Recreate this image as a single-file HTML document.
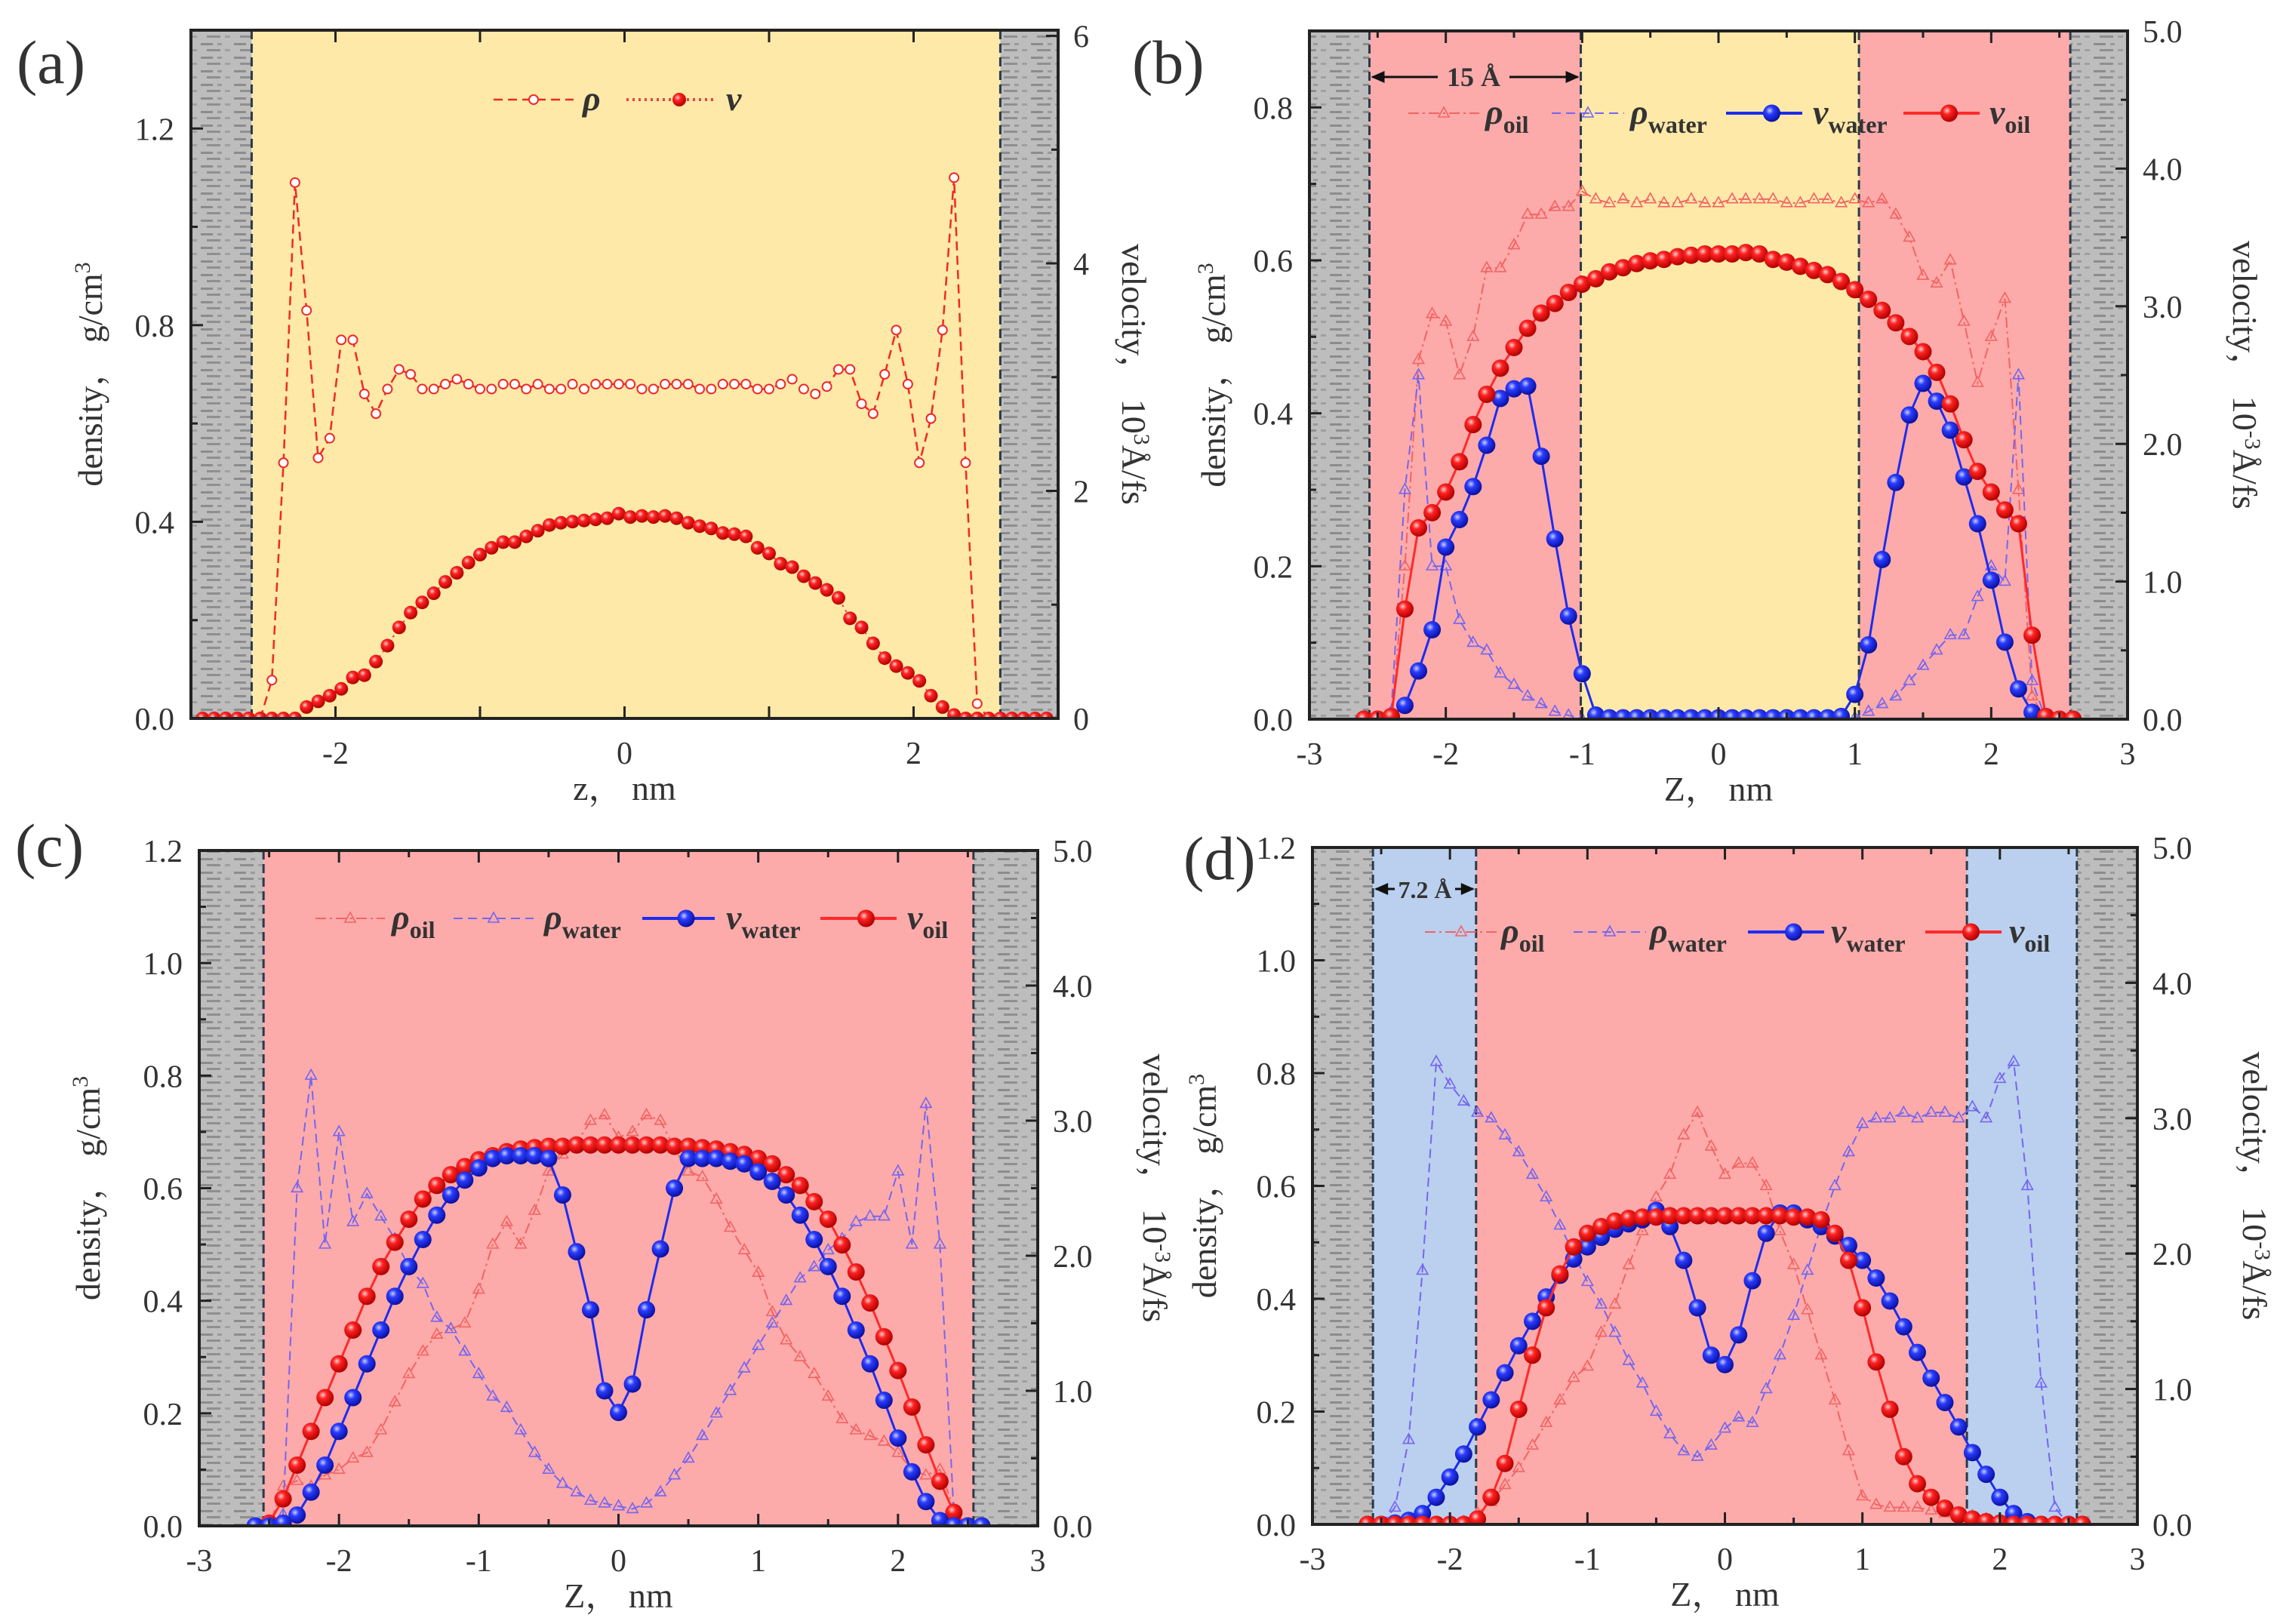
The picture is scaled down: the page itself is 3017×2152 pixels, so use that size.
<!DOCTYPE html>
<html><head><meta charset="utf-8"><title>Density and velocity profiles</title>
<style>
html,body{margin:0;padding:0;background:#fff;}
svg{display:block;}
text{font-family:"Liberation Serif","Noto Serif CJK SC",serif;fill:#333;}
</style></head>
<body>
<svg id="fig" xmlns="http://www.w3.org/2000/svg" width="3017" height="2152" viewBox="0 0 3017 2152">
<defs>
<pattern id="wall" width="44" height="18" patternUnits="userSpaceOnUse">
<rect width="44" height="18" fill="#bdbdbd"/>
<rect x="2" y="3" width="16" height="3" fill="#8c8c8c"/>
<rect x="24" y="3" width="6" height="3" fill="#9a9a9a"/>
<rect x="10" y="11" width="18" height="3" fill="#8f8f8f"/>
<rect x="34" y="11" width="7" height="3" fill="#a0a0a0"/>
</pattern>
<radialGradient id="ballBlue" cx="38%" cy="35%" r="65%"><stop offset="0" stop-color="#c8d0ff"/><stop offset="0.35" stop-color="#2a3cff"/><stop offset="1" stop-color="#0a10a0"/></radialGradient>
<radialGradient id="ballRed" cx="38%" cy="35%" r="65%"><stop offset="0" stop-color="#ffd0d0"/><stop offset="0.35" stop-color="#ff2222"/><stop offset="1" stop-color="#b00000"/></radialGradient>
</defs>
<g id="layer"></g>
</svg>
<script>
// ---------- data ----------
const zA = [-2.92,-2.84,-2.76,-2.68,-2.60,-2.52,-2.44,-2.36,-2.28,-2.20,-2.12,-2.04,-1.96,-1.88,-1.80,-1.72,-1.64,-1.56,-1.48,-1.40,-1.32,-1.24,-1.16,-1.08,-1.00,-0.92,-0.84,-0.76,-0.68,-0.60,-0.52,-0.44,-0.36,-0.28,-0.20,-0.12,-0.04,0.04,0.12,0.20,0.28,0.36,0.44,0.52,0.60,0.68,0.76,0.84,0.92,1.00,1.08,1.16,1.24,1.32,1.40,1.48,1.56,1.64,1.72,1.80,1.88,1.96,2.04,2.12,2.20,2.28,2.36,2.44,2.52,2.60,2.68,2.76,2.84,2.92];
const rhoA = [0,0,0,0,0,0,0.078,0.52,1.09,0.83,0.53,0.57,0.77,0.77,0.66,0.62,0.67,0.71,0.70,0.67,0.67,0.68,0.69,0.68,0.67,0.67,0.68,0.68,0.67,0.68,0.67,0.67,0.68,0.67,0.68,0.68,0.68,0.68,0.67,0.67,0.68,0.68,0.68,0.67,0.67,0.68,0.68,0.68,0.67,0.67,0.68,0.69,0.67,0.66,0.675,0.71,0.71,0.64,0.62,0.70,0.79,0.68,0.52,0.61,0.79,1.10,0.52,0.03,0,0,0,0,0,0];
const velA = [0,0,0,0,0,0,0,0,0,0.1,0.15,0.2,0.26,0.36,0.38,0.5,0.64,0.8,0.93,1.02,1.1,1.2,1.28,1.37,1.44,1.5,1.55,1.55,1.6,1.65,1.7,1.72,1.73,1.74,1.75,1.76,1.8,1.77,1.78,1.77,1.78,1.76,1.72,1.69,1.67,1.63,1.62,1.6,1.5,1.45,1.36,1.33,1.25,1.19,1.13,1.06,0.88,0.8,0.66,0.53,0.46,0.4,0.33,0.2,0.1,0.03,0,0,0,0,0,0,0,0];

const zGrid = [-2.6,-2.5,-2.4,-2.3,-2.2,-2.1,-2.0,-1.9,-1.8,-1.7,-1.6,-1.5,-1.4,-1.3,-1.2,-1.1,-1.0,-0.9,-0.8,-0.7,-0.6,-0.5,-0.4,-0.3,-0.2,-0.1,0,0.1,0.2,0.3,0.4,0.5,0.6,0.7,0.8,0.9,1.0,1.1,1.2,1.3,1.4,1.5,1.6,1.7,1.8,1.9,2.0,2.1,2.2,2.3,2.4,2.5,2.6];

const rhoOilB = [0,0,0,0.2,0.47,0.53,0.52,0.45,0.5,0.59,0.59,0.62,0.66,0.66,0.67,0.67,0.69,0.68,0.675,0.68,0.675,0.68,0.675,0.675,0.68,0.675,0.675,0.68,0.68,0.68,0.68,0.675,0.675,0.68,0.68,0.675,0.68,0.675,0.68,0.66,0.63,0.58,0.57,0.6,0.52,0.44,0.5,0.55,0.3,0.03,0,0,0];
const rhoWaterB = [0,0,0.01,0.3,0.45,0.2,0.2,0.13,0.1,0.09,0.06,0.045,0.03,0.02,0.01,0.005,0,0,0,0,0,0,0,0,0,0,0,0,0,0,0,0,0,0,0,0,0.002,0.01,0.02,0.03,0.05,0.07,0.09,0.11,0.11,0.16,0.2,0.18,0.45,0.05,0,0,0];
const vWaterB = [0,0,0.02,0.1,0.35,0.65,1.25,1.45,1.69,1.99,2.33,2.4,2.42,1.91,1.31,0.75,0.33,0.03,0.01,0.01,0.01,0.01,0.01,0.01,0.01,0.01,0.01,0.01,0.01,0.01,0.01,0.01,0.01,0.01,0.01,0.02,0.18,0.54,1.16,1.72,2.21,2.44,2.31,2.1,1.76,1.42,1.01,0.56,0.22,0.05,0,0,0];
const vOilB = [0,0,0.02,0.8,1.39,1.5,1.65,1.87,2.14,2.36,2.55,2.7,2.84,2.95,3.02,3.1,3.16,3.2,3.25,3.28,3.31,3.33,3.34,3.36,3.37,3.38,3.38,3.38,3.39,3.38,3.34,3.32,3.29,3.26,3.23,3.18,3.12,3.05,2.97,2.88,2.78,2.67,2.52,2.29,2.03,1.8,1.65,1.52,1.42,0.61,0.02,0,0];

const rhoOilC = [0,0,0.07,0.08,0.07,0.09,0.1,0.12,0.13,0.17,0.22,0.27,0.31,0.34,0.35,0.36,0.42,0.5,0.54,0.5,0.56,0.63,0.66,0.68,0.72,0.73,0.69,0.7,0.73,0.72,0.67,0.63,0.62,0.58,0.53,0.49,0.45,0.38,0.33,0.3,0.27,0.23,0.19,0.17,0.16,0.15,0.13,0.1,0.09,0.1,0.03,0,0];
const rhoWaterC = [0,0,0.02,0.6,0.8,0.5,0.7,0.54,0.59,0.55,0.51,0.46,0.43,0.37,0.35,0.31,0.27,0.23,0.21,0.17,0.13,0.1,0.075,0.06,0.045,0.04,0.035,0.03,0.04,0.06,0.09,0.12,0.16,0.2,0.24,0.28,0.32,0.36,0.4,0.44,0.46,0.49,0.51,0.54,0.55,0.55,0.63,0.5,0.75,0.5,0.02,0,0];
const vWaterC = [0,0,0.02,0.08,0.25,0.45,0.7,0.95,1.2,1.45,1.7,1.92,2.12,2.3,2.45,2.56,2.65,2.72,2.74,2.74,2.74,2.72,2.45,2.03,1.6,1.0,0.84,1.05,1.6,2.05,2.5,2.72,2.72,2.72,2.7,2.68,2.62,2.55,2.45,2.3,2.12,1.92,1.7,1.45,1.2,0.93,0.65,0.4,0.18,0.04,0,0,0];
const vOilC = [0,0.02,0.2,0.45,0.7,0.95,1.2,1.45,1.7,1.92,2.1,2.27,2.42,2.52,2.6,2.66,2.71,2.74,2.77,2.79,2.8,2.81,2.81,2.82,2.82,2.82,2.82,2.82,2.82,2.82,2.81,2.81,2.8,2.79,2.77,2.75,2.72,2.68,2.6,2.52,2.4,2.27,2.08,1.88,1.65,1.4,1.15,0.88,0.6,0.33,0.1,0,0];

const rhoOilD = [0,0,0,0,0,0,0,0.005,0.02,0.04,0.07,0.1,0.14,0.18,0.22,0.26,0.28,0.34,0.39,0.46,0.52,0.58,0.62,0.69,0.73,0.67,0.62,0.64,0.64,0.6,0.52,0.46,0.38,0.3,0.22,0.13,0.05,0.035,0.03,0.03,0.03,0.025,0.02,0.02,0.015,0.01,0.005,0,0,0,0,0,0];
const rhoWaterD = [0,0,0.03,0.15,0.45,0.82,0.78,0.75,0.73,0.72,0.69,0.66,0.62,0.58,0.53,0.48,0.43,0.39,0.34,0.29,0.25,0.2,0.16,0.13,0.12,0.14,0.17,0.19,0.18,0.24,0.3,0.37,0.45,0.53,0.6,0.66,0.71,0.72,0.72,0.73,0.72,0.73,0.73,0.72,0.74,0.72,0.79,0.82,0.6,0.25,0.03,0,0];
const vWaterD = [0,0,0.01,0.03,0.08,0.2,0.35,0.52,0.72,0.92,1.12,1.32,1.5,1.68,1.84,1.96,2.05,2.12,2.18,2.22,2.25,2.32,2.2,1.95,1.6,1.25,1.18,1.4,1.8,2.15,2.3,2.3,2.25,2.2,2.13,2.06,1.95,1.82,1.65,1.46,1.27,1.08,0.9,0.72,0.53,0.37,0.2,0.08,0.02,0,0,0,0];
const vOilD = [0,0,0,0,0,0,0,0,0.04,0.2,0.45,0.85,1.25,1.6,1.85,2.05,2.15,2.2,2.24,2.26,2.27,2.27,2.28,2.28,2.28,2.28,2.28,2.28,2.28,2.28,2.28,2.27,2.27,2.25,2.15,1.95,1.6,1.2,0.85,0.5,0.3,0.2,0.12,0.07,0.04,0.02,0.01,0,0,0,0,0,0];

// ---------- drawing ----------
const NS = "http://www.w3.org/2000/svg";
const layer = document.getElementById('layer');
function mk(tag, attrs, parent){
  const e = document.createElementNS(NS, tag);
  for (const k in attrs) e.setAttribute(k, attrs[k]);
  (parent||layer).appendChild(e);
  return e;
}

function panel(cfg){
  const g = mk('g', {});
  
  
  const X = z => cfg.x0 + (z + 3) / 6 * (cfg.x1 - cfg.x0);
  const YL = v => cfg.y1 - v / cfg.lmax * (cfg.y1 - cfg.y0);
  const YR = v => cfg.y1 - v / cfg.rmax * (cfg.y1 - cfg.y0);
  const clipId = 'clip' + cfg.id;
  const cp = mk('clipPath', {id: clipId}, g);
  mk('rect', {x: cfg.x0, y: cfg.y0, width: cfg.x1 - cfg.x0, height: cfg.y1 - cfg.y0}, cp);
  cfg.bands.forEach(b => {
    const r = mk('rect', {x: X(b[0]), y: cfg.y0, width: X(b[1]) - X(b[0]), height: cfg.y1 - cfg.y0, fill: b[2]}, g);
    
    
  });
  cfg.dashes.forEach(d => {
    const l = mk('line', {x1: X(d), x2: X(d), y1: cfg.y0, y2: cfg.y1, stroke: '#2a3a4a', 'stroke-width': 3, 'stroke-dasharray': '12 6'}, g);
    
    
  });
  const plot = mk('g', {'clip-path': 'url(#' + clipId + ')'}, g);
  
  
  cfg.series.forEach(s => {
    const sg = mk('g', {}, plot);
    
    
    const Y = s.axis === 'r' ? YR : YL;
    const pts = s.z.map((z, i) => X(z).toFixed(1) + ',' + Y(s.v[i]).toFixed(1)).join(' ');
    const pl = mk('polyline', {points: pts, fill: 'none', stroke: s.color, 'stroke-width': s.lw, 'stroke-dasharray': s.dash || 'none'}, sg);
    
    
    s.z.forEach((z, i) => {
      const cx = X(z), cy = Y(s.v[i]);
      let m;
      if (s.marker === 'tri') {
        const r = s.size;
        m = mk('polygon', {points: `${cx},${cy - r} ${cx - r * 0.9},${cy + r * 0.6} ${cx + r * 0.9},${cy + r * 0.6}`, fill: 'none', stroke: s.color, 'stroke-width': 1.6}, sg);
      } else if (s.marker === 'ball') {
        m = mk('circle', {cx: cx, cy: cy, r: s.size, fill: s.grad}, sg);
      } else {
        m = mk('circle', {cx: cx, cy: cy, r: s.size, fill: '#fff', stroke: s.color, 'stroke-width': 2}, sg);
      }
      
      
    });
  });
  const fr = mk('rect', {x: cfg.x0, y: cfg.y0, width: cfg.x1 - cfg.x0, height: cfg.y1 - cfg.y0, fill: 'none', stroke: '#222', 'stroke-width': 4}, g);
  
  
  const tk = mk('g', {stroke: '#222', 'stroke-width': 3}, g);
  
  
  for (let z = -3; z <= 3.001; z += cfg.xMinor) {
    const isMaj = Math.abs(z / cfg.xMajor - Math.round(z / cfg.xMajor)) < 1e-6;
    const L = isMaj ? 16 : 9;
    mk('line', {x1: X(z), x2: X(z), y1: cfg.y1, y2: cfg.y1 - L}, tk);
    mk('line', {x1: X(z), x2: X(z), y1: cfg.y0, y2: cfg.y0 + L}, tk);
  }
  cfg.xLabels.forEach(v => {
    const t = mk('text', {x: X(v), y: cfg.y1 + 60, 'text-anchor': 'middle', 'font-size': 42}, g);
    t.textContent = v < 0 ? '-' + Math.abs(v) : String(v);
    
    
  });
  for (let v = 0; v <= cfg.lmax + 1e-6; v += cfg.lMinor) {
    const isMaj = Math.abs(v / cfg.lMajor - Math.round(v / cfg.lMajor)) < 1e-6;
    mk('line', {x1: cfg.x0, x2: cfg.x0 + (isMaj ? 16 : 9), y1: YL(v), y2: YL(v)}, tk);
    if (isMaj) {
      const t = mk('text', {x: cfg.x0 - 22, y: YL(v) + 15, 'text-anchor': 'end', 'font-size': 42}, g);
      t.textContent = v.toFixed(1);
      
      
    }
  }
  for (let v = 0; v <= cfg.rmax + 1e-6; v += cfg.rMinor) {
    const isMaj = Math.abs(v / cfg.rMajor - Math.round(v / cfg.rMajor)) < 1e-6;
    mk('line', {x1: cfg.x1, x2: cfg.x1 - (isMaj ? 16 : 9), y1: YR(v), y2: YR(v)}, tk);
    if (isMaj) {
      const t = mk('text', {x: cfg.x1 + 20, y: YR(v) + 15, 'text-anchor': 'start', 'font-size': 42}, g);
      t.textContent = cfg.rDec ? v.toFixed(1) : String(Math.round(v));
      
      
    }
  }
  const xt = mk('text', {x: (cfg.x0 + cfg.x1) / 2, y: cfg.y1 + 108, 'text-anchor': 'middle', 'font-size': 46}, g);
  xt.textContent = cfg.xTitle;
  
  
  const ycx = cfg.x0 - cfg.lTitleOff, ycy = (cfg.y0 + cfg.y1) / 2;
  const lt = mk('text', {x: ycx, y: ycy, 'text-anchor': 'middle', 'font-size': 46, transform: `rotate(-90 ${ycx} ${ycy})`}, g);
  lt.innerHTML = 'density， g/cm<tspan dy="-16" font-size="30">3</tspan>';
  
  
  const rcx = cfg.x1 + cfg.rTitleOff;
  const rt = mk('text', {x: rcx, y: ycy, 'text-anchor': 'middle', 'font-size': 46, transform: `rotate(90 ${rcx} ${ycy})`}, g);
  rt.innerHTML = 'velocity， 10<tspan dy="-16" font-size="30">' + cfg.rExp + '</tspan><tspan dy="16">Å/fs</tspan>';
  
  
  const pl = mk('text', {x: cfg.lab[0], y: cfg.lab[1], 'font-size': 82}, g);
  pl.textContent = '(' + cfg.id + ')';
  
  
  const lg = mk('g', {}, g);
  
  
  cfg.legend.forEach(it => {
    const s = cfg.series.find(q => q.name === it.name);
    const le = mk('g', {}, lg);
    
    
    mk('line', {x1: it.x1, x2: it.x2, y1: cfg.legY, y2: cfg.legY, stroke: s.color, 'stroke-width': s.marker === 'ball' ? 4 : s.lw, 'stroke-dasharray': s.dash || 'none'}, le);
    const mx = (it.x1 + it.x2) / 2;
    if (s.marker === 'tri') mk('polygon', {points: `${mx},${cfg.legY - 8} ${mx - 7},${cfg.legY + 5} ${mx + 7},${cfg.legY + 5}`, fill: 'none', stroke: s.color, 'stroke-width': 1.6}, le);
    else if (s.marker === 'ball') mk('circle', {cx: mx + 10, cy: cfg.legY, r: s.size, fill: s.grad}, le);
    else mk('circle', {cx: mx, cy: cfg.legY, r: s.size, fill: '#fff', stroke: s.color, 'stroke-width': 2}, le);
    const t = mk('text', {x: it.tx, y: cfg.legY + 14, 'font-size': 46, 'font-weight': 'bold', 'font-style': 'italic'}, le);
    t.innerHTML = it.sym + (it.sub ? '<tspan dy="12" font-size="32" font-style="normal">' + it.sub + '</tspan>' : '');
  });
  if (cfg.arrow) {
    const a = cfg.arrow;
    const ag = mk('g', {}, g);
    
    
    const xa = X(a.z0), xb = X(a.z1);
    mk('line', {x1: xa + 4, x2: a.gap0, y1: a.y, y2: a.y, stroke: '#111', 'stroke-width': 3}, ag);
    mk('line', {x1: a.gap1, x2: xb - 4, y1: a.y, y2: a.y, stroke: '#111', 'stroke-width': 3}, ag);
    mk('polygon', {points: `${xa + 2},${a.y} ${xa + 20},${a.y - 8} ${xa + 20},${a.y + 8}`, fill: '#111'}, ag);
    mk('polygon', {points: `${xb - 2},${a.y} ${xb - 20},${a.y - 8} ${xb - 20},${a.y + 8}`, fill: '#111'}, ag);
    const t = mk('text', {x: (a.gap0 + a.gap1) / 2, y: a.y + 12, 'text-anchor': 'middle', 'font-size': a.fs, 'font-weight': 'bold'}, ag);
    t.textContent = a.text;
  }
}

const WALL = 'url(#wall)', PINK = '#fdaaaa', YEL = '#fee9a8', BLUE = '#bad0ee';
const rhoOilStyle = {color: '#f26464', lw: 2, dash: '14 5 3 5', marker: 'tri', size: 8};
const rhoWaterStyle = {color: '#7466f0', lw: 2, dash: '12 7', marker: 'tri', size: 8};
const vWaterStyle = {color: '#1d2cf0', lw: 3, marker: 'ball', size: 11.5, grad: 'url(#ballBlue)'};
const vOilStyle = {color: '#ff2a2a', lw: 3, marker: 'ball', size: 11.5, grad: 'url(#ballRed)'};
function S(name, style, z, v, axis){ return Object.assign({name: name, z: z, v: v, axis: axis}, style); }

panel({id: 'a', x0: 253, x1: 1402, y0: 40, y1: 952, lmax: 1.4, lMajor: 0.4, lMinor: 0.2, rmax: 6.05, rMajor: 2, rMinor: 1, rDec: false, rExp: '3',
  xMajor: 1, xMinor: 1, xLabels: [-2, 0, 2], xTitle: 'z， nm', lTitleOff: 118, rTitleOff: 85, lab: [22, 110],
  bands: [[-3, -2.58, WALL, 'left-wall'], [-2.58, 2.6, YEL, 'oil-region'], [2.6, 3, WALL, 'right-wall']], dashes: [-2.58, 2.6],
  series: [S('rho', {color: '#f02828', lw: 2.5, dash: '12 7', marker: 'open', size: 6}, zA, rhoA, 'l'),
           S('v', {color: '#f04040', lw: 2, dash: '3 5', marker: 'ball', size: 9, grad: 'url(#ballRed)'}, zA, velA, 'r')],
  legY: 132, legend: [{name: 'rho', x1: 654, x2: 760, tx: 772, sym: 'ρ'}, {name: 'v', x1: 830, x2: 950, tx: 962, sym: 'v'}]});

panel({id: 'b', x0: 1735, x1: 2819, y0: 41, y1: 953, lmax: 0.9, lMajor: 0.2, lMinor: 0.1, rmax: 5, rMajor: 1, rMinor: 0.5, rDec: true, rExp: '-3',
  xMajor: 1, xMinor: 0.5, xLabels: [-3, -2, -1, 0, 1, 2, 3], xTitle: 'Z， nm', lTitleOff: 112, rTitleOff: 140, lab: [1500, 110],
  bands: [[-3, -2.56, WALL, 'left-wall'], [-2.56, -1.01, PINK, 'oil-region-left'], [-1.01, 1.03, YEL, 'center-region'], [1.03, 2.58, PINK, 'oil-region-right'], [2.58, 3, WALL, 'right-wall']],
  dashes: [-2.56, -1.01, 1.03, 2.58],
  series: [S('rho-oil', rhoOilStyle, zGrid, rhoOilB, 'l'), S('rho-water', rhoWaterStyle, zGrid, rhoWaterB, 'l'),
           S('v-water', vWaterStyle, zGrid, vWaterB, 'r'), S('v-oil', vOilStyle, zGrid, vOilB, 'r')],
  legY: 150, legend: [{name: 'rho-oil', x1: 1866, x2: 1960, tx: 1968, sym: 'ρ', sub: 'oil'}, {name: 'rho-water', x1: 2056, x2: 2152, tx: 2160, sym: 'ρ', sub: 'water'},
    {name: 'v-water', x1: 2287, x2: 2388, tx: 2402, sym: 'v', sub: 'water'}, {name: 'v-oil', x1: 2522, x2: 2623, tx: 2636, sym: 'v', sub: 'oil'}],
  arrow: {z0: -2.56, z1: -1.01, y: 102, gap0: 1905, gap1: 2000, text: '15 Å', fs: 36}});

panel({id: 'c', x0: 264, x1: 1375, y0: 1127, y1: 2022, lmax: 1.2, lMajor: 0.2, lMinor: 0.1, rmax: 5, rMajor: 1, rMinor: 0.5, rDec: true, rExp: '-3',
  xMajor: 1, xMinor: 0.5, xLabels: [-3, -2, -1, 0, 1, 2, 3], xTitle: 'Z， nm', lTitleOff: 132, rTitleOff: 140, lab: [20, 1148],
  bands: [[-3, -2.54, WALL, 'left-wall'], [-2.54, 2.54, PINK, 'oil-region'], [2.54, 3, WALL, 'right-wall']], dashes: [-2.54, 2.54],
  series: [S('rho-oil', rhoOilStyle, zGrid, rhoOilC, 'l'), S('rho-water', rhoWaterStyle, zGrid, rhoWaterC, 'l'),
           S('v-oil', vOilStyle, zGrid, vOilC, 'r'), S('v-water', vWaterStyle, zGrid, vWaterC, 'r')],
  legY: 1217, legend: [{name: 'rho-oil', x1: 418, x2: 510, tx: 519, sym: 'ρ', sub: 'oil'}, {name: 'rho-water', x1: 601, x2: 707, tx: 721, sym: 'ρ', sub: 'water'},
    {name: 'v-water', x1: 851, x2: 947, tx: 962, sym: 'v', sub: 'water'}, {name: 'v-oil', x1: 1087, x2: 1188, tx: 1202, sym: 'v', sub: 'oil'}]});

panel({id: 'd', x0: 1739, x1: 2832, y0: 1123, y1: 2020, lmax: 1.2, lMajor: 0.2, lMinor: 0.1, rmax: 5, rMajor: 1, rMinor: 0.5, rDec: true, rExp: '-3',
  xMajor: 1, xMinor: 0.5, xLabels: [-3, -2, -1, 0, 1, 2, 3], xTitle: 'Z， nm', lTitleOff: 128, rTitleOff: 140, lab: [1568, 1165],
  bands: [[-3, -2.56, WALL, 'left-wall'], [-2.56, -1.81, BLUE, 'water-region-left'], [-1.81, 1.76, PINK, 'oil-region'], [1.76, 2.56, BLUE, 'water-region-right'], [2.56, 3, WALL, 'right-wall']],
  dashes: [-2.56, -1.81, 1.76, 2.56],
  series: [S('rho-oil', rhoOilStyle, zGrid, rhoOilD, 'l'), S('rho-water', rhoWaterStyle, zGrid, rhoWaterD, 'l'),
           S('v-water', vWaterStyle, zGrid, vWaterD, 'r'), S('v-oil', vOilStyle, zGrid, vOilD, 'r')],
  legY: 1235, legend: [{name: 'rho-oil', x1: 1888, x2: 1984, tx: 1989, sym: 'ρ', sub: 'oil'}, {name: 'rho-water', x1: 2085, x2: 2181, tx: 2186, sym: 'ρ', sub: 'water'},
    {name: 'v-water', x1: 2316, x2: 2417, tx: 2426, sym: 'v', sub: 'water'}, {name: 'v-oil', x1: 2551, x2: 2652, tx: 2662, sym: 'v', sub: 'oil'}],
  arrow: {z0: -2.56, z1: -1.81, y: 1178, gap0: 1848, gap1: 1928, text: '7.2 Å', fs: 32}});
</script>
</body></html>
